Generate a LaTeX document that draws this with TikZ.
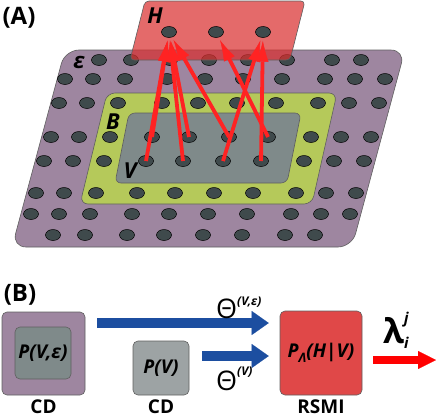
\documentclass[tikz,border=0pt]{standalone}
\usepackage{fontspec}
\setmainfont{Open Sans}
\usetikzlibrary{arrows.meta,shapes.geometric}

\definecolor{purplelayer}{RGB}{158,134,160}
\definecolor{greenlayer}{RGB}{181,201,90}
\definecolor{graylayer}{RGB}{127,138,138}
\definecolor{boxgray}{RGB}{157,163,164}
\definecolor{sitegray}{RGB}{63,74,76}
\definecolor{planered}{RGB}{217,48,48}
\definecolor{boxred}{RGB}{224,72,72}
\definecolor{flowblue}{RGB}{28,78,160}
\definecolor{couplingred}{RGB}{255,35,35}
\definecolor{edgegray}{RGB}{95,95,95}

\tikzstyle{layer} = [draw=edgegray,line width=0.6pt]
\tikzstyle{site} = [ellipse,draw=black,fill=sitegray,line width=0.5pt,minimum width=15pt,minimum height=11pt,inner sep=0pt]
\tikzstyle{coupling} = [draw=couplingred,line width=3.8pt,-{Latex[length=21pt,width=12pt,line width=0.4pt]},shorten >=3pt]
\tikzstyle{layerlabel} = [font=\fontsize{22}{22}\selectfont\bfseries\itshape,inner sep=0pt]
\tikzstyle{panellabel} = [font=\fontsize{24}{24}\selectfont\bfseries,inner sep=0pt]
\tikzstyle{caption} = [font=\fontsize{19}{19}\selectfont\bfseries,inner sep=0pt]
\tikzstyle{distbox} = [draw=edgegray,line width=0.6pt,rounded corners=5pt,inner sep=0pt,font=\fontsize{19}{19}\selectfont\bfseries\itshape]
\tikzstyle{flowarrow} = [line width=10pt,-{Triangle[length=17pt,width=24pt,line width=0.1pt]}]

\begin{document}
\begin{tikzpicture}[x=1pt,y=-1pt]
      \useasboundingbox (0,0) rectangle (436,418);
      %panel A: layers
      \node[panellabel] at (19,18) {(A)};
      \draw[layer,fill=purplelayer,rounded corners=14pt] (12,247) -- (352,247) -- (405,50) -- (65,50) -- cycle;
      \draw[layer,fill=greenlayer,rounded corners=8pt] (80,204) -- (312,204) -- (337,93) -- (107,93) -- cycle;
      \draw[layer,fill=graylayer,rounded corners=6pt] (115,183) -- (287,183) -- (301,113) -- (129,113) -- cycle;
      %sites
      \foreach \row/\y/\xs in {
        1/60/{99,131,170,209,248,287,332,361},
        2/79/{65,93,125,167,205,243,282,325,355,385},
        3/103/{59,87,118,162,198,237,276,318,349,379},
        4/137/{51,79,110,152,189,229,268,311,341,371},
        5/161/{44,73,104,146,183,223,261,304,334,364},
        6/193/{36,64,96,137,175,214,253,296,326,356},
        7/214/{31,59,90,132,169,208,247,291,321,350},
        8/235/{53,85,127,164,203,242,285,315}}
      {
        \foreach \x [count=\col] in \xs
          \node[site] (s-\row-\col) at (\x,\y) {};
      };
      %hidden layer
      \draw[layer,fill=planered,fill opacity=0.72,rounded corners=4pt] (130,60) -- (290,60) -- (305,1) -- (145,1) -- cycle;
      \foreach \name/\x in {h1/169, h2/216, h3/263}
        \node[site] (\name) at (\x,32) {};
      \node[layerlabel] at (155,16) {H};
      \node[layerlabel] at (79,62) {ε};
      \node[layerlabel] at (113,122) {B};
      \node[layerlabel] at (130,171) {V};
      %couplings
      \foreach \from/\to in {
        s-5-4/h1, s-4-4/h1, s-5-5/h1, s-4-5/h1, s-4-6/h1,
        s-5-6/h3, s-4-7/h2, s-5-7/h3}
      {
        \draw[coupling] (\from.center) -- (\to);
      };

      %panel B: boxes
      \node[panellabel] at (20,295) {(B)};
      \node[distbox,fill=purplelayer,minimum width=83pt,minimum height=83pt] (cdfull) at (43.5,353.5) {};
      \node[distbox,fill=graylayer,minimum width=56pt,minimum height=52pt] (pve) at (43,353) {P(V,ε)};
      \node[distbox,fill=boxgray,minimum width=56pt,minimum height=54pt] (pv) at (161,368) {P(V)};
      \node[distbox,fill=boxred,minimum width=82pt,minimum height=84pt] (rsmi) at (321,353) {P\raisebox{-5pt}{\fontsize{13}{13}\selectfont Λ}(H|V)};
      \node[caption,below=4pt] at (cdfull.south) {CD};
      \node[caption,below=4pt] at (pv.south) {CD};
      \node[caption,below=4pt] at (rsmi.south) {RSMI};
      %flows
      \coordinate (uprow) at (0,323);
      \coordinate (lowrow) at (0,356);
      \coordinate (out) at (436,360);
      \draw[flowarrow,flowblue] ([xshift=12pt]cdfull.east |- uprow) -- ([xshift=-11pt]rsmi.west |- uprow);
      \draw[flowarrow,flowblue] ([xshift=13pt]pv.east |- lowrow) -- ([xshift=-11pt]rsmi.west |- lowrow);
      \draw[flowarrow,red,line width=8pt,-{Triangle[length=18pt,width=18pt,line width=0.1pt]}] ([xshift=11pt]rsmi.east |- out) -- (out);
      \node[anchor=base west,inner sep=0pt] (thetafull) at (216,318)
        {{\fontsize{27}{27}\selectfont Θ}\raisebox{13pt}{\fontsize{12}{12}\selectfont\bfseries\itshape (V,ε)}};
      \node[anchor=base west,inner sep=0pt] (thetav) at (216,390)
        {{\fontsize{27}{27}\selectfont Θ}\raisebox{15pt}{\fontsize{12}{12}\selectfont\bfseries\itshape (V)}};
      \node[anchor=base west,inner sep=0pt] (lambda) at (383,343)
        {{\fontsize{34}{34}\selectfont\bfseries λ}\rlap{\raisebox{20pt}{\fontsize{15}{15}\selectfont\bfseries\itshape j}}\raisebox{-5pt}{\fontsize{15}{15}\selectfont\bfseries\itshape i}};
    \end{tikzpicture}
\end{document}
